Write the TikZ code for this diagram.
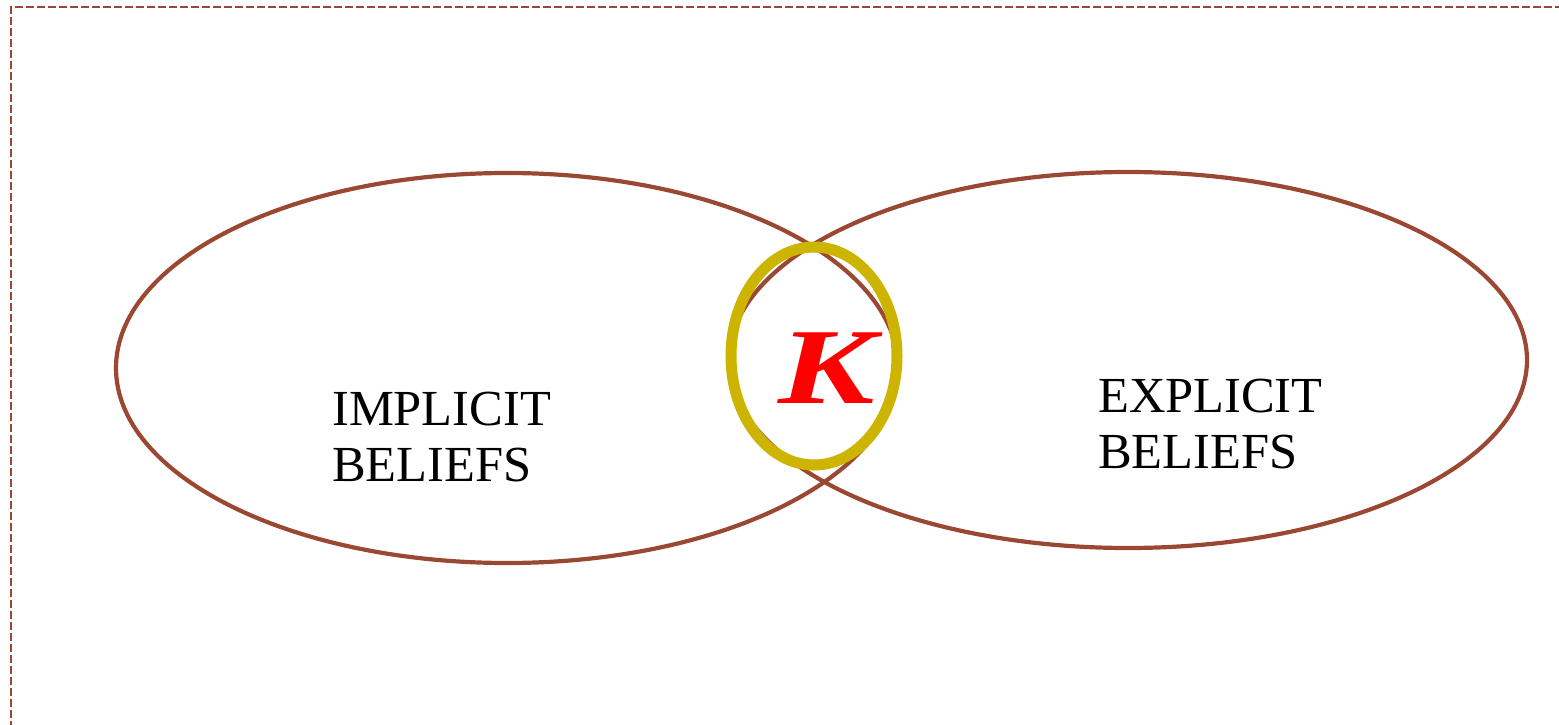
\documentclass[tikz,border=0pt]{standalone}
\usepackage{fontspec}
\setmainfont{Liberation Serif}
\definecolor{ellbrown}{RGB}{154,72,50}
\definecolor{kyellow}{RGB}{204,180,0}
\definecolor{kred}{RGB}{255,0,0}
\tikzset{
  beliefset/.style={draw=ellbrown, line width=4.2pt},
  kring/.style={draw=kyellow, line width=11pt},
  lbl/.style={anchor=north west, inner sep=0pt, align=left, font=\fontsize{50.5}{56}\selectfont},
  frame/.style={draw=ellbrown, line width=2.4pt, dash pattern=on 8pt off 3pt}
}
\begin{document}
\begin{tikzpicture}[x=1pt,y=-1pt]
\useasboundingbox (0,0) rectangle (1559,725);
\draw[frame] (11,740) -- (11,7) -- (1575,7);
\draw[beliefset] (507,368) ellipse [x radius=391, y radius=195];
\draw[beliefset] (1128,360) ellipse [x radius=399, y radius=188];
\draw[kring] (814,356) ellipse [x radius=83, y radius=109];
\node[inner sep=0pt, text=kred, xscale=1.34, font=\fontsize{108}{108}\selectfont\bfseries\itshape] (k) at (827,368) {K};
\node[lbl] (impl) at (332,391.5) {IMPLICIT\\BELIEFS};
\node[lbl] (expl) at (1098,378.5) {EXPLICIT\\BELIEFS};
\end{tikzpicture}
\end{document}
